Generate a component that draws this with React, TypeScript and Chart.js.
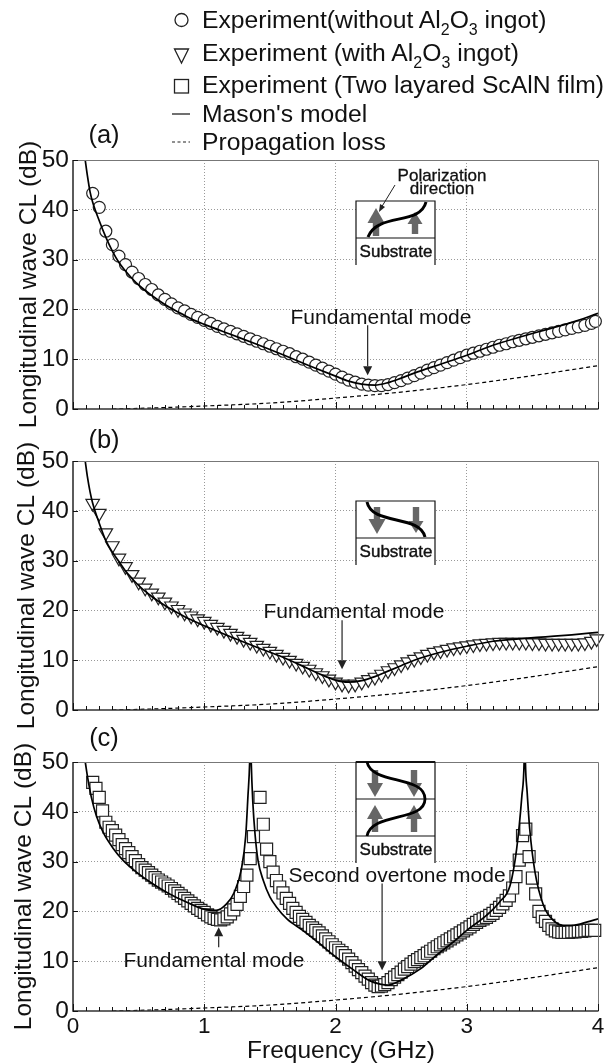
import React, { useEffect, useRef } from "react";
import { Chart, registerables } from "chart.js";

Chart.register(...registerables);

const FONT = '"Liberation Sans", Arial, sans-serif';
const INK = "#111";

// Panel (a): Experiment without Al2O3 ingot
const freqA = [0.15,0.2,0.25,0.3,0.35,0.4,0.45,0.5,0.55,0.6,0.65,0.7,0.75,0.8,0.85,0.9,0.95,1.0,1.05,1.1,1.15,1.2,1.25,1.3,1.35,1.4,1.45,1.5,1.55,1.6,1.65,1.7,1.75,1.8,1.85,1.9,1.95,2.0,2.05,2.1,2.15,2.2,2.25,2.3,2.35,2.4,2.45,2.5,2.55,2.6,2.65,2.7,2.75,2.8,2.85,2.9,2.95,3.0,3.05,3.1,3.15,3.2,3.25,3.3,3.35,3.4,3.45,3.5,3.55,3.6,3.65,3.7,3.75,3.8,3.85,3.9,3.95,3.98];
const clA = [43.3,40.5,35.7,33,30.7,29,27.5,26.2,25,24,22.9,22,21.1,20.3,19.7,19,18.4,17.8,17.2,16.6,16.1,15.6,15.1,14.6,14.1,13.6,13.1,12.6,12.1,11.6,11.1,10.5,10,9.4,8.8,8.2,7.6,7,6.4,5.8,5.4,5,4.8,4.7,4.7,4.9,5.3,5.7,6.2,6.7,7.2,7.8,8.3,8.8,9.3,9.8,10.3,10.8,11.2,11.6,12,12.4,12.8,13.1,13.5,13.8,14.1,14.4,14.7,15,15.3,15.6,15.9,16.2,16.5,16.8,17.2,17.6];
const modelFreqA = [0.093,0.11,0.13,0.15,0.2,0.25,0.3,0.35,0.4,0.45,0.5,0.6,0.7,0.8,0.9,1.0,1.2,1.4,1.6,1.8,2.0,2.1,2.2,2.3,2.4,2.5,2.6,2.8,3.0,3.2,3.4,3.6,3.8,4.0];
const modelA = [50,46.8,43.6,41.5,37.8,34.5,31.7,29.4,27.7,26.2,24.9,22.8,21,19.5,18.1,17,15,13,10.9,8.7,6.6,5.6,5,4.8,5.3,6.2,7.2,9,10.8,12.8,14.4,15.9,17.4,19.2];

// Panel (b): Experiment with Al2O3 ingot
const freqB = [0.15,0.2,0.25,0.3,0.35,0.4,0.45,0.5,0.55,0.6,0.65,0.7,0.75,0.8,0.85,0.9,0.95,1.0,1.05,1.1,1.15,1.2,1.25,1.3,1.35,1.4,1.45,1.5,1.55,1.6,1.65,1.7,1.75,1.8,1.85,1.9,1.95,2.0,2.05,2.1,2.15,2.2,2.25,2.3,2.35,2.4,2.45,2.5,2.55,2.6,2.65,2.7,2.75,2.8,2.85,2.9,2.95,3.0,3.05,3.1,3.15,3.2,3.25,3.3,3.35,3.4,3.45,3.5,3.55,3.6,3.65,3.7,3.75,3.8,3.85,3.9,3.95,3.99];
const clB = [41.5,39.5,35.6,33,30.5,28.8,27.2,25.7,24.5,23.5,22.7,21.7,20.9,20.2,19.5,18.9,18.3,17.8,17.2,16.6,16,15.4,14.8,14.2,13.6,13,12.4,11.8,11.2,10.6,10,9.4,8.8,8.2,7.5,6.9,6.2,5.6,5.2,5,5.2,5.6,6.1,6.6,7.2,7.9,8.5,9.1,9.7,10.2,10.7,11.2,11.6,11.9,12.2,12.5,12.7,12.9,13.1,13.3,13.4,13.5,13.6,13.6,13.6,13.6,13.6,13.5,13.5,13.4,13.4,13.4,13.4,13.4,13.4,13.5,13.8,14.3];
const modelFreqB = [0.093,0.11,0.13,0.15,0.2,0.25,0.3,0.35,0.4,0.45,0.5,0.6,0.7,0.8,0.9,1.0,1.2,1.4,1.6,1.8,1.9,2.0,2.05,2.1,2.2,2.3,2.4,2.5,2.6,2.8,3.0,3.2,3.4,3.6,3.8,4.0];
const modelB = [50,46.8,43.8,41.5,37.5,34,31.7,29.8,27.9,26.4,25,22.8,21,19.5,18.1,16.9,14.7,12.6,10.6,8.2,7,6,5.7,5.6,5.9,6.7,7.8,8.9,10,11.6,12.8,13.8,14.3,14.7,15.1,15.6];

// Panel (c): Experiment with two layered ScAlN film
const freqC = [0.15,0.175,0.2,0.225,0.25,0.275,0.3,0.325,0.35,0.375,0.4,0.425,0.45,0.475,0.5,0.525,0.55,0.575,0.6,0.625,0.65,0.675,0.7,0.725,0.75,0.775,0.8,0.825,0.85,0.875,0.9,0.925,0.95,0.975,1.0,1.025,1.05,1.075,1.1,1.125,1.15,1.175,1.2,1.225,1.25,1.275,1.3,1.325,1.35,1.375,1.425,1.45,1.475,1.5,1.525,1.55,1.575,1.6,1.625,1.65,1.675,1.7,1.725,1.75,1.775,1.8,1.825,1.85,1.875,1.9,1.925,1.95,1.975,2.0,2.025,2.05,2.075,2.1,2.125,2.15,2.175,2.2,2.225,2.25,2.275,2.3,2.325,2.35,2.375,2.4,2.425,2.45,2.475,2.5,2.525,2.55,2.575,2.6,2.625,2.65,2.675,2.7,2.725,2.75,2.775,2.8,2.825,2.85,2.875,2.9,2.925,2.95,2.975,3.0,3.025,3.05,3.075,3.1,3.125,3.15,3.175,3.2,3.225,3.25,3.275,3.3,3.325,3.35,3.375,3.4,3.425,3.45,3.475,3.5,3.525,3.55,3.575,3.6,3.625,3.65,3.675,3.7,3.725,3.75,3.775,3.8,3.825,3.85,3.875,3.9,3.925,3.95,3.975];
const clC = [45.9,44.7,42.9,40.2,37.9,36.9,36.2,35.3,34.4,33.4,32.6,31.8,31,30.2,29.4,28.8,28.3,27.8,27.3,26.8,26.3,25.9,25.5,25.1,24.6,24.1,23.6,23.1,22.6,22.1,21.6,21.1,20.6,20.2,19.8,19.3,18.9,18.6,18.4,18.3,18.5,18.9,19.5,20.3,21.4,23,25,27.3,30.6,35,42.9,37.5,32.5,30,27.9,26.2,24.9,23.7,22.6,21.6,20.6,19.8,19,18.4,17.8,17.2,16.7,16.2,15.7,15.1,14.5,13.9,13.3,12.7,12.2,11.7,11.1,10.4,9.7,9,8.3,7.7,7,6.4,5.7,5.2,4.9,5,5.3,5.7,6.3,6.8,7.3,7.8,8.4,8.9,9.4,9.9,10.3,10.7,11.1,11.6,12,12.5,12.9,13.3,13.7,14.1,14.5,14.9,15.3,15.7,16.1,16.5,16.9,17.4,17.8,18.2,18.5,18.8,19.2,19.6,20.2,20.8,21.5,22.2,23.1,24.7,27,30.3,35.2,36.5,31,26.7,23.5,20,18.9,18,17.2,16.5,16.1,15.9,15.8,15.8,15.8,15.9,15.9,16,16,16.1,16.2,16.2,16.2];
const modelFreqC = [0.094,0.114,0.14,0.178,0.229,0.305,0.38,0.483,0.61,0.736,0.863,0.99,1.09,1.17,1.23,1.283,1.316,1.333,1.346,1.352,1.358,1.37,1.387,1.41,1.45,1.5,1.55,1.63,1.75,1.88,2.0,2.14,2.26,2.34,2.4,2.5,2.65,2.77,2.9,3.0,3.15,3.25,3.33,3.38,3.42,3.437,3.442,3.447,3.46,3.48,3.52,3.585,3.66,3.74,3.81,3.92,4.0];
const modelC = [49.9,46.5,42.9,39.2,35.9,32.7,30.3,27.9,25.5,23.5,21.9,20.5,20.2,21.5,23.9,28.5,35.2,43.2,50,58,50,42,35.5,30.2,26.2,22.9,20.9,18.5,16.2,13.5,10.9,8.2,6.1,5.4,5.2,6.2,8.5,11.2,13.9,16.2,19.2,21.9,25.2,32.5,43.2,50,58,50,44,36.5,27.9,21.2,18.2,17.2,17.2,17.9,18.5];

// Propagation loss (same in all panels)
const lossFreq = [0.3,0.6,1.0,1.5,2.0,2.5,3.0,3.5,4.0];
const loss = [0,0.2,0.6,1.2,2.2,3.4,4.9,6.7,8.7];

const yTicksMajor = [0, 10, 20, 30, 40, 50];

const zip = (xs: number[], ys: number[]) => xs.map((x, i) => ({ x, y: ys[i] }));

type Decor = (c: CanvasRenderingContext2D, px: (v: number) => number, py: (v: number) => number, top: number) => void;

function arrow(c: CanvasRenderingContext2D, x: number, y0: number, y1: number, color = "#222", hw = 4.5, hl = 9, lw = 1.2) {
  const d = y1 > y0 ? 1 : -1;
  c.strokeStyle = color;
  c.lineWidth = lw;
  c.beginPath();
  c.moveTo(x, y0);
  c.lineTo(x, y1 - d * hl);
  c.stroke();
  c.fillStyle = color;
  c.beginPath();
  c.moveTo(x, y1);
  c.lineTo(x - hw, y1 - d * hl);
  c.lineTo(x + hw, y1 - d * hl);
  c.closePath();
  c.fill();
}

function fatArrow(c: CanvasRenderingContext2D, x: number, tail: number, tip: number, headW: number, headL: number) {
  const d = tip > tail ? 1 : -1;
  c.fillStyle = "#666";
  c.fillRect(x - 3.2, Math.min(tail, tip - d * headL), 6.4, Math.abs(tip - d * headL - tail));
  c.beginPath();
  c.moveTo(x, tip);
  c.lineTo(x - headW / 2, tip - d * headL);
  c.lineTo(x + headW / 2, tip - d * headL);
  c.closePath();
  c.fill();
}

function insetBox(c: CanvasRenderingContext2D, x0: number, x1: number, y0: number, y1: number) {
  c.fillStyle = "#fff";
  c.fillRect(x0, y0, x1 - x0, y1 - y0);
  c.strokeStyle = "#111";
  c.lineWidth = 1.2;
  c.beginPath();
  c.moveTo(x0, y1);
  c.lineTo(x0, y0);
  c.lineTo(x1, y0);
  c.lineTo(x1, y1);
  c.stroke();
}

const hline = (c: CanvasRenderingContext2D, x0: number, x1: number, y: number, lw = 1.2) => {
  c.strokeStyle = "#111";
  c.lineWidth = lw;
  c.beginPath();
  c.moveTo(x0, y);
  c.lineTo(x1, y);
  c.stroke();
};

const decorA: Decor = (c, px, py, top) => {
  arrow(c, px(2.245), py(16.8), py(6.8));
  insetBox(c, 356, 435, 201 - top, 265 - top);
  hline(c, 356, 435, 238 - top);
  fatArrow(c, 376, 236 - top, 208 - top, 17, 15);
  fatArrow(c, 415, 234 - top, 212 - top, 15, 12);
  c.strokeStyle = "#000";
  c.lineWidth = 3;
  c.beginPath();
  c.moveTo(368, 237 - top);
  c.bezierCurveTo(378, 212 - top, 420, 226 - top, 426, 202 - top);
  c.stroke();
  c.strokeStyle = "#222";
  c.lineWidth = 1;
  c.beginPath();
  c.moveTo(395, 185 - top);
  c.lineTo(381, 208 - top);
  c.stroke();
  c.fillStyle = "#222";
  c.beginPath();
  c.moveTo(379, 212 - top);
  c.lineTo(380, 204 - top);
  c.lineTo(385, 207 - top);
  c.closePath();
  c.fill();
};

const decorB: Decor = (c, px, py, top) => {
  arrow(c, px(2.05), py(18), py(8.2), "#222", 4.5, 9);
  insetBox(c, 356, 435, 501 - top, 565 - top);
  hline(c, 356, 435, 538 - top);
  fatArrow(c, 377, 507 - top, 534 - top, 17, 15);
  fatArrow(c, 416, 507 - top, 533 - top, 15, 12);
  c.strokeStyle = "#000";
  c.lineWidth = 3;
  c.beginPath();
  c.moveTo(367, 502 - top);
  c.bezierCurveTo(372, 526 - top, 420, 514 - top, 425, 537 - top);
  c.stroke();
};

const decorC: Decor = (c, px, py, top) => {
  arrow(c, px(1.11), py(12.8), py(16.8), "#222", 4.5, 9);
  arrow(c, px(2.355), py(25.6), py(8.2), "#222", 4.5, 9);
  insetBox(c, 356, 435, 762 - top, 863 - top);
  hline(c, 356, 435, 762 - top, 2);
  hline(c, 356, 435, 799 - top);
  hline(c, 356, 435, 836 - top);
  fatArrow(c, 375, 770 - top, 797 - top, 16, 14);
  fatArrow(c, 414, 770 - top, 797 - top, 16, 14);
  fatArrow(c, 375, 832 - top, 805 - top, 16, 14);
  fatArrow(c, 414, 832 - top, 805 - top, 16, 14);
  c.strokeStyle = "#000";
  c.lineWidth = 2.8;
  c.beginPath();
  c.moveTo(367, 762 - top);
  c.bezierCurveTo(372, 785 - top, 425, 775 - top, 425, 799 - top);
  c.bezierCurveTo(425, 822 - top, 372, 812 - top, 367, 836 - top);
  c.stroke();
};

const isWhole = (v: number) => Math.abs(v - Math.round(v)) < 1e-6;

function makeChart(
  canvas: HTMLCanvasElement,
  top: number,
  height: number,
  plotTop: number,
  plotBottom: number,
  showX: boolean,
  titlePad: number,
  expFreq: number[],
  exp: number[],
  pointStyle: string,
  pointRadius: number,
  rotation: number,
  modelFreq: number[],
  model: number[],
  decor: Decor
) {
  const frame = {
    id: "frame",
    afterDatasetsDraw(chart: any) {
      const { ctx: c, chartArea: a, scales } = chart;
      const px = (v: number) => scales.x.getPixelForValue(v);
      const py = (v: number) => scales.y.getPixelForValue(v);
      c.save();
      c.lineWidth = 1;
      c.strokeStyle = "#777";
      c.beginPath();
      c.moveTo(a.left, a.top + 0.5);
      c.lineTo(a.right + 0.5, a.top + 0.5);
      c.lineTo(a.right + 0.5, a.bottom);
      c.stroke();
      c.lineWidth = 1.6;
      c.strokeStyle = "#333";
      c.beginPath();
      c.moveTo(a.left, a.top);
      c.lineTo(a.left, a.bottom);
      c.lineTo(a.right + 0.5, a.bottom);
      c.stroke();
      c.strokeStyle = "#111";
      for (const t of scales.x.ticks) {
        const x = Math.round(px(t.value)) + 0.5;
        c.lineWidth = 1;
        c.beginPath();
        c.moveTo(x, a.bottom);
        c.lineTo(x, a.bottom - (isWhole(t.value) ? 7 : 4));
        c.stroke();
      }
      for (const v of yTicksMajor) {
        c.beginPath();
        c.moveTo(a.left, Math.round(py(v)) + 0.5);
        c.lineTo(a.left + 5, Math.round(py(v)) + 0.5);
        c.stroke();
      }
      decor(c, px, py, top);
      c.restore();
    },
  };

  return new Chart(canvas, {
    type: "scatter",
    plugins: [frame],
    data: {
      datasets: [
        {
          label: "Mason's model",
          data: zip(modelFreq, model),
          showLine: true,
          borderColor: "#000",
          borderWidth: 1.7,
          pointRadius: 0,
          cubicInterpolationMode: "monotone",
          order: 0,
        },
        {
          label: "Propagation loss",
          data: zip(lossFreq, loss),
          showLine: true,
          borderColor: "#000",
          borderWidth: 1.2,
          borderDash: [4, 3],
          pointRadius: 0,
          cubicInterpolationMode: "monotone",
          order: 1,
        },
        {
          label: "Experiment",
          data: zip(expFreq, exp),
          showLine: false,
          pointStyle,
          pointRadius,
          pointRotation: rotation,
          pointBorderColor: "#222",
          pointBorderWidth: 1.2,
          pointBackgroundColor: "#fff",
          clip: false,
          order: 2,
        },
      ],
    },
    options: {
      animation: false,
      responsive: false,
      devicePixelRatio: 1,
      layout: { padding: { top: plotTop - top, left: 0, right: 615 - 598, bottom: 0 } },
      plugins: { legend: { display: false }, tooltip: { enabled: false } },
      scales: {
        x: {
          type: "linear",
          min: 0,
          max: 4,
          afterFit: (s: any) => {
            s.height = top + height - plotBottom;
          },
          ticks: {
            stepSize: 0.1,
            autoSkip: false,
            maxRotation: 0,
            display: showX,
            padding: 2,
            color: INK,
            font: { family: FONT, size: 22.5 },
            callback: (v: any) => (isWhole(Number(v)) ? String(Math.round(Number(v))) : ""),
          },
          grid: {
            drawTicks: false,
            color: (ctx: any) => (isWhole(ctx.tick.value) && ctx.tick.value > 0 && ctx.tick.value < 4 ? "#999" : "rgba(0,0,0,0)"),
          },
          border: { display: false, dash: [1, 2] },
        },
        y: {
          type: "linear",
          min: 0,
          max: 50,
          afterFit: (s: any) => {
            s.width = 73;
          },
          ticks: {
            stepSize: 10,
            padding: 4,
            color: INK,
            font: { family: FONT, size: 24.5 },
          },
          grid: {
            drawTicks: false,
            color: (ctx: any) => (ctx.tick.value > 0 && ctx.tick.value < 50 ? "#999" : "rgba(0,0,0,0)"),
          },
          border: { display: false, dash: [1, 2] },
          title: {
            display: true,
            text: "Longitudinal wave CL (dB)",
            color: INK,
            font: { family: FONT, size: 24.5 },
            padding: { top: titlePad, bottom: 0 },
          },
        },
      },
    },
  } as any);
}

const textStyle = (x: number, y: number, size: number, center: boolean, extra: React.CSSProperties = {}): React.CSSProperties => ({
  position: "absolute",
  left: x,
  top: y,
  transform: center ? "translate(-50%,-50%)" : "translateY(-50%)",
  fontFamily: FONT,
  fontSize: size,
  lineHeight: 1,
  whiteSpace: "nowrap",
  color: INK,
  ...extra,
});

const subStyle: React.CSSProperties = { fontSize: 16, verticalAlign: -7, lineHeight: 0 };

function Label({ x, y, size, center = true, extra, children }: { x: number; y: number; size: number; center?: boolean; extra?: React.CSSProperties; children: React.ReactNode }) {
  return <div style={textStyle(x, y, size, center, extra)}>{children}</div>;
}

export default function App() {
  const a = useRef<HTMLCanvasElement>(null);
  const b = useRef<HTMLCanvasElement>(null);
  const c = useRef<HTMLCanvasElement>(null);
  useEffect(() => {
    const charts = [
      makeChart(a.current!, 130, 301, 160, 409, false, 15, freqA, clA, "circle", 6, 0, modelFreqA, modelA, decorA),
      makeChart(b.current!, 431, 301, 461, 710, false, 13, freqB, clB, "triangle", 7.8, 180, modelFreqB, modelB, decorB),
      makeChart(c.current!, 732, 332, 762, 1011, true, 10, freqC, clC, "rect", 8.5, 0, modelFreqC, modelC, decorC),
    ];
    return () => charts.forEach((ch) => ch.destroy());
  }, []);

  const cv = (top: number): React.CSSProperties => ({ position: "absolute", left: 0, top, display: "block" });

  return (
    <div style={{ position: "absolute", left: 0, top: 0, width: 615, height: 1064, overflow: "hidden", background: "#fff" }}>
      <canvas ref={a} width={615} height={301} style={cv(130)} />
      <canvas ref={b} width={615} height={301} style={cv(431)} />
      <canvas ref={c} width={615} height={332} style={cv(732)} />

      <svg width={200} height={160} style={{ position: "absolute", left: 160, top: 0 }}>
        <circle cx={21.5} cy={20} r={6.5} fill="none" stroke="#222" strokeWidth={1.3} />
        <polygon points="14.5,49 28.5,49 21.5,63" fill="none" stroke="#222" strokeWidth={1.3} />
        <rect x={14.5} y={79.5} width={14} height={13.5} fill="none" stroke="#222" strokeWidth={1.3} />
        <line x1={12} x2={30} y1={114} y2={114} stroke="#222" strokeWidth={1.3} />
        <line x1={12} x2={30} y1={142} y2={142} stroke="#222" strokeWidth={1.2} strokeDasharray="3 2.5" />
      </svg>

      <Label x={202} y={20} size={24.7} center={false}>Experiment(without Al<span style={subStyle}>2</span>O<span style={subStyle}>3</span> ingot)</Label>
      <Label x={202} y={53} size={24.7} center={false}>Experiment (with Al<span style={subStyle}>2</span>O<span style={subStyle}>3</span> ingot)</Label>
      <Label x={202} y={85} size={24.7} center={false}>Experiment (Two layared ScAlN film)</Label>
      <Label x={202} y={114} size={24.7} center={false}>Mason's model</Label>
      <Label x={202} y={142} size={24.7} center={false}>Propagation loss</Label>

      <Label x={104} y={135} size={25.5}>(a)</Label>
      <Label x={104} y={440} size={25.5}>(b)</Label>
      <Label x={104} y={738} size={25.5}>(c)</Label>

      <Label x={381} y={316} size={21}>Fundamental mode</Label>
      <Label x={354} y={610} size={21}>Fundamental mode</Label>
      <Label x={214} y={959} size={21}>Fundamental mode</Label>
      <Label x={397} y={874} size={21}>Second overtone mode</Label>

      <Label x={442} y={175} size={17} extra={{ WebkitTextStroke: "0.3px #111" }}>Polarization</Label>
      <Label x={442} y={188} size={17} extra={{ WebkitTextStroke: "0.3px #111" }}>direction</Label>
      <Label x={396} y={251} size={17} extra={{ WebkitTextStroke: "0.4px #111" }}>Substrate</Label>
      <Label x={396} y={551} size={17} extra={{ WebkitTextStroke: "0.4px #111" }}>Substrate</Label>
      <Label x={396} y={849} size={17} extra={{ WebkitTextStroke: "0.4px #111" }}>Substrate</Label>

      <Label x={341} y={1050} size={24.5}>Frequency (GHz)</Label>
    </div>
  );
}
